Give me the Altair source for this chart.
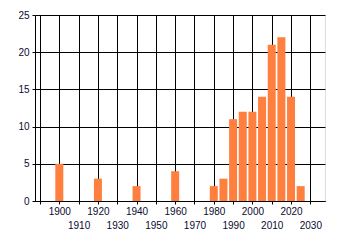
import altair as alt
import pandas as pd

years = [1900, 1920, 1940, 1960, 1980, 1985, 1990, 1995, 2000, 2005, 2010, 2015, 2020, 2025]
counts = [5, 3, 2, 4, 2, 3, 11, 12, 12, 14, 21, 22, 14, 2]

df = pd.DataFrame({"year": years, "count": counts})

FONT = "Liberation Sans"
LABEL_COLOR = "#0a0a30"

chart = alt.Chart(df).mark_bar(size=8, color="#FF7F3F").encode(
    x=alt.X(
        "year:Q",
        scale=alt.Scale(domain=[1890, 2035], nice=False, zero=False),
        axis=alt.Axis(
            title=None,
            values=list(range(1890, 2031, 10)),
            labelExpr="datum.value == 1890 ? '' : ((datum.value / 10) % 2 == 0 ? datum.label : ['', datum.label])",
            format="d",
            grid=True,
            gridColor="black",
            gridOpacity=1,
            domainColor="black",
            tickColor="black",
            tickSize=3,
            labelPadding=2,
            labelFont=FONT,
            labelFontSize=10,
            labelColor=LABEL_COLOR,
            labelLineHeight=14,
            labelFlush=False,
            labelOverlap=False,
        ),
    ),
    y=alt.Y(
        "count:Q",
        scale=alt.Scale(domain=[0, 25], nice=False),
        axis=alt.Axis(
            title=None,
            values=[0, 5, 10, 15, 20, 25],
            grid=True,
            gridColor="black",
            gridOpacity=1,
            domainColor="black",
            tickColor="black",
            tickSize=3,
            labelPadding=3,
            labelFont=FONT,
            labelFontSize=10,
            labelColor=LABEL_COLOR,
        ),
    ),
).properties(
    width=290,
    height=186,
    autosize=alt.AutoSizeParams(type="none"),
    padding={"left": 35, "top": 15, "right": 15, "bottom": 44},
).configure_view(
    stroke="black",
    strokeWidth=1,
).configure(
    background="white",
)

chart.save("out.html", embed_options={"renderer": "svg", "actions": False})
